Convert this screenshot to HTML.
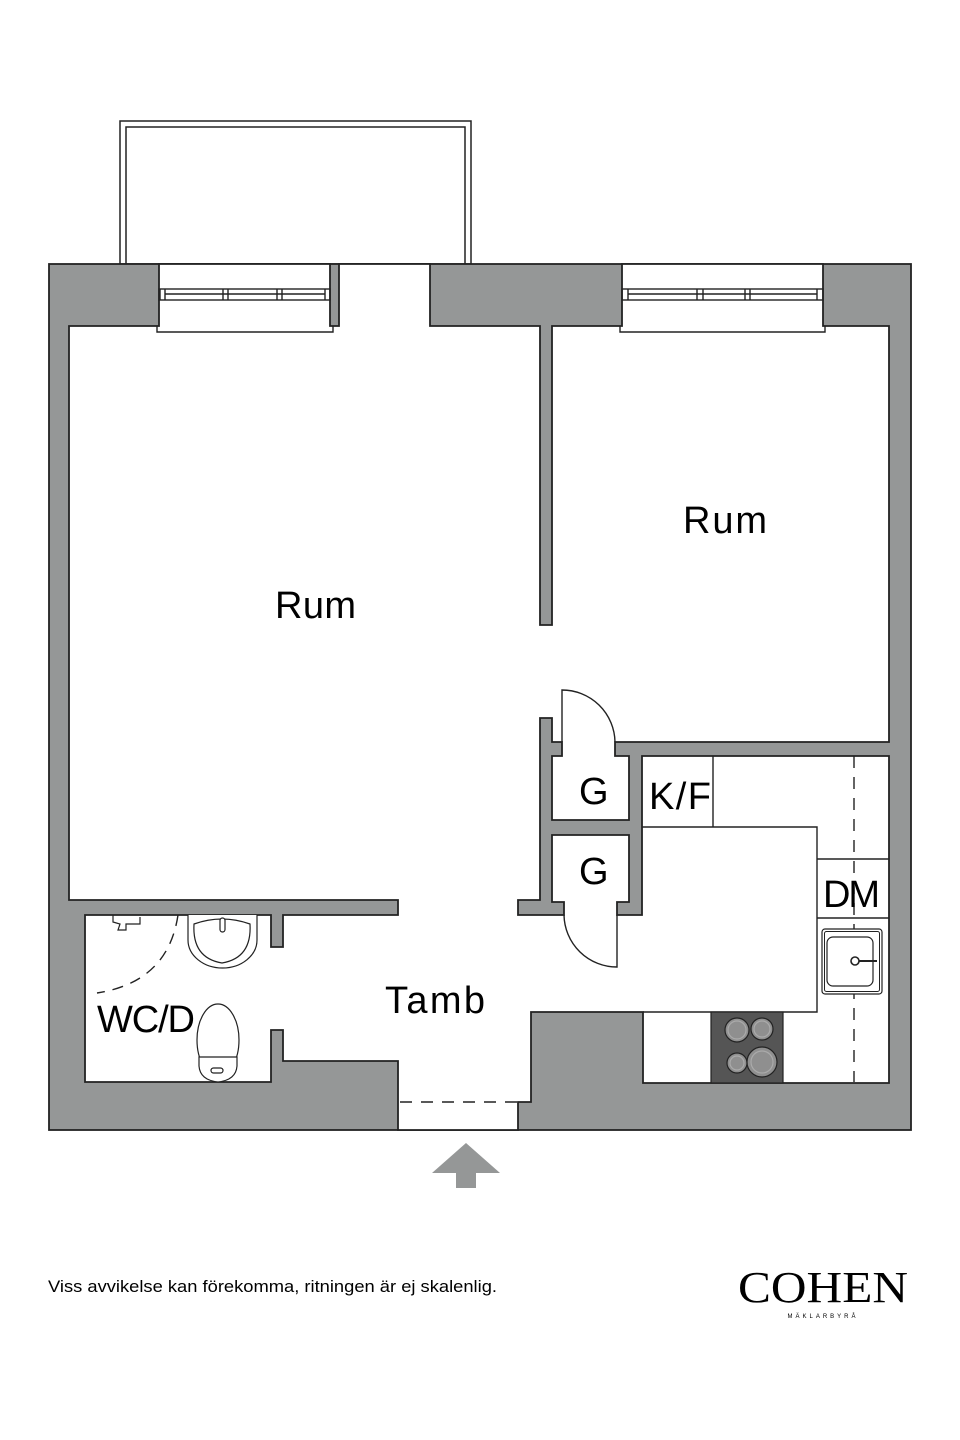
<!DOCTYPE html>
<html><head><meta charset="utf-8"><style>
html,body{margin:0;padding:0;background:#fff;}
svg{display:block}
text{font-family:"Liberation Sans",sans-serif;fill:#000}
</style></head><body>
<svg width="960" height="1440" viewBox="0 0 960 1440" xmlns="http://www.w3.org/2000/svg">
<rect width="960" height="1440" fill="#fff"/>
<!-- balcony -->
<rect x="120" y="121" width="351" height="143" fill="none" stroke="#222" stroke-width="1.5"/>
<polyline points="126,264 126,127 465,127 465,264" fill="none" stroke="#222" stroke-width="1.5"/>
<!-- outer walls -->
<rect x="49" y="264" width="862" height="866" fill="#959797" stroke="#222" stroke-width="1.8"/>
<!-- main white interior -->
<polygon fill="#fff" stroke="#222" stroke-width="1.8" stroke-linejoin="miter" points="69,326 159,326 159,264 330,264 330,326 339,326 339,264 430,264 430,326 540,326 540,625 552,625 552,326 622,326 622,264 823,264 823,326 889,326 889,742 615,742 615,756 629,756 629,820 552,820 552,756 562,756 562,742 552,742 552,718 540,718 540,900 518,900 518,915 564,915 564,902 552,902 552,835 629,835 629,902 617,902 617,915 642,915 642,756 889,756 889,1083 643,1083 643,1012 531,1012 531,1102 518,1102 518,1130 398,1130 398,1061 283,1061 283,1030 271,1030 271,1082 85,1082 85,915 271,915 271,947 283,947 283,915 398,915 398,900 69,900"/>
<!-- window recesses -->
<g fill="none" stroke="#222" stroke-width="1.4">
<polyline points="157,326 157,332 333,332 333,326"/>
<polyline points="620,326 620,332 825,332 825,326"/>
<rect x="159" y="289" width="171" height="11"/>
<line x1="165" y1="294" x2="325" y2="294"/>
<line x1="160" y1="289" x2="160" y2="300"/><line x1="165" y1="289" x2="165" y2="300"/>
<line x1="223" y1="289" x2="223" y2="300"/><line x1="228" y1="289" x2="228" y2="300"/>
<line x1="277" y1="289" x2="277" y2="300"/><line x1="282" y1="289" x2="282" y2="300"/>
<line x1="325" y1="289" x2="325" y2="300"/>
<rect x="622" y="289" width="201" height="11"/>
<line x1="628" y1="294" x2="817" y2="294"/>
<line x1="628" y1="289" x2="628" y2="300"/>
<line x1="697" y1="289" x2="697" y2="300"/><line x1="703" y1="289" x2="703" y2="300"/>
<line x1="745" y1="289" x2="745" y2="300"/><line x1="750" y1="289" x2="750" y2="300"/>
<line x1="817" y1="289" x2="817" y2="300"/>
</g>
<!-- doors -->
<g fill="none" stroke="#222" stroke-width="1.4">
<path d="M562,742 L562,690 A53,53 0 0 1 615,742"/>
<path d="M617,915 L617,967 A53,53 0 0 1 564,915"/>
<line x1="400" y1="1102" x2="518" y2="1102" stroke-dasharray="12,9"/>
</g>
<!-- kitchen -->
<g fill="none" stroke="#222" stroke-width="1.4">
<polyline points="642,827 817,827 817,1012 643,1012"/>
<line x1="713" y1="756" x2="713" y2="827"/>
<line x1="817" y1="859" x2="889" y2="859"/>
<line x1="817" y1="918" x2="889" y2="918"/>
<line x1="854" y1="756" x2="854" y2="1082" stroke-dasharray="12,9"/>
</g>
<rect x="822" y="929" width="60" height="65" rx="3" fill="#fff" stroke="#222" stroke-width="1.2"/>
<rect x="824.5" y="931.5" width="55" height="60" rx="2" fill="none" stroke="#222" stroke-width="1"/>
<rect x="827" y="937" width="46" height="49" rx="6" fill="none" stroke="#222" stroke-width="1.2"/>
<circle cx="855" cy="961" r="4" fill="#fff" stroke="#222" stroke-width="1.6"/>
<line x1="859" y1="961" x2="877" y2="961" stroke="#222" stroke-width="2"/>
<rect x="711" y="1012" width="72" height="71" fill="#555" stroke="#222" stroke-width="1.2"/>
<g fill="#8f8f8f" stroke="#222" stroke-width="1.2">
<circle cx="737" cy="1030" r="12"/><circle cx="737" cy="1030" r="9" fill="none" stroke="#aaa"/>
<circle cx="762" cy="1029" r="11"/><circle cx="762" cy="1029" r="8" fill="none" stroke="#aaa"/>
<circle cx="737" cy="1063" r="10"/><circle cx="737" cy="1063" r="7" fill="none" stroke="#aaa"/>
<circle cx="762" cy="1062" r="15"/><circle cx="762" cy="1062" r="11" fill="none" stroke="#aaa"/>
</g>
<!-- bathroom fixtures -->
<g fill="#fff" stroke="#222" stroke-width="1.2">
<path d="M188,915 L188,940 A34.5,28 0 0 0 257,940 L257,915"/>
<path d="M194,924 Q222,914 250,924 Q252,958 222,963 Q192,958 194,924 Z" fill="none"/>
<rect x="220" y="918" width="5" height="14" rx="2.5"/>
<ellipse cx="218" cy="1040" rx="21" ry="36"/>
<path d="M199,1057 L237,1057 L237,1066 Q236,1080 218,1082 Q200,1080 199,1066 Z"/>
<rect x="211" y="1068" width="12" height="5" rx="2.5"/>
<path d="M113,915 L113,922 L120,924 L118,930 L126,930 L126,924 L140,924 L140,917" fill="none"/>
</g>
<path d="M178,915 Q168,982 97,993" fill="none" stroke="#222" stroke-width="1.4" stroke-dasharray="11,8"/>
<!-- entry arrow -->
<polygon points="466,1143 500,1173 476,1173 476,1188 456,1188 456,1173 432,1173" fill="#959797"/>
<!-- labels -->
<g font-size="38" lengthAdjust="spacingAndGlyphs">
<text x="275" y="618" textLength="81">Rum</text>
<text x="683" y="533" textLength="84">Rum</text>
<text x="579" y="804" textLength="25">G</text>
<text x="579" y="884" textLength="25">G</text>
<text x="649" y="809" textLength="62">K/F</text>
<text x="823" y="907" textLength="57">DM</text>
<text x="385" y="1013" textLength="100">Tamb</text>
<text x="97" y="1032" textLength="98">WC/D</text>
</g>
<text x="48" y="1292" font-size="17" textLength="449" lengthAdjust="spacingAndGlyphs">Viss avvikelse kan förekomma, ritningen är ej skalenlig.</text>
<text x="823" y="1302" font-size="44" text-anchor="middle" style="font-family:'Liberation Serif',serif" textLength="170" lengthAdjust="spacingAndGlyphs">COHEN</text>
<text x="823" y="1318" font-size="6" text-anchor="middle" letter-spacing="3">MÄKLARBYRÅ</text>
</svg>
</body></html>
